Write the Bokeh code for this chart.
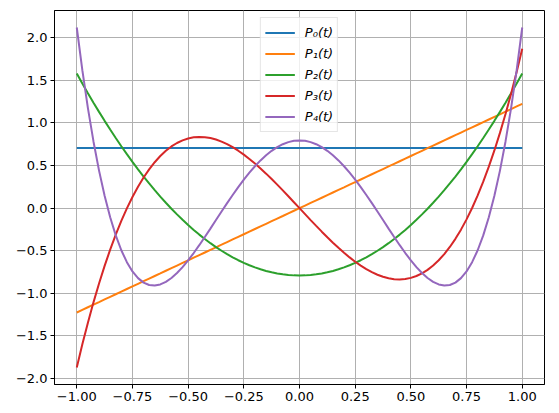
from bokeh.plotting import figure
from bokeh.models import FixedTicker, Range1d
from bokeh.embed import file_html
from bokeh.resources import INLINE

T = [-1.000, -0.975, -0.950, -0.925, -0.900, -0.875, -0.850, -0.825, -0.800, -0.775,
     -0.750, -0.725, -0.700, -0.675, -0.650, -0.625, -0.600, -0.575, -0.550, -0.525,
     -0.500, -0.475, -0.450, -0.425, -0.400, -0.375, -0.350, -0.325, -0.300, -0.275,
     -0.250, -0.225, -0.200, -0.175, -0.150, -0.125, -0.100, -0.075, -0.050, -0.025,
     0.000,
     0.025, 0.050, 0.075, 0.100, 0.125, 0.150, 0.175, 0.200, 0.225, 0.250,
     0.275, 0.300, 0.325, 0.350, 0.375, 0.400, 0.425, 0.450, 0.475, 0.500,
     0.525, 0.550, 0.575, 0.600, 0.625, 0.650, 0.675, 0.700, 0.725, 0.750,
     0.775, 0.800, 0.825, 0.850, 0.875, 0.900, 0.925, 0.950, 0.975, 1.000]

T0 = [-1.0, 1.0]
P0 = [0.7071, 0.7071]

P1 = [-1.2247, -1.1941, -1.1635, -1.1329, -1.1023, -1.0716, -1.0410, -1.0104, -0.9798, -0.9492,
      -0.9186, -0.8879, -0.8573, -0.8267, -0.7961, -0.7655, -0.7348, -0.7042, -0.6736, -0.6430,
      -0.6124, -0.5818, -0.5511, -0.5205, -0.4899, -0.4593, -0.4287, -0.3980, -0.3674, -0.3368,
      -0.3062, -0.2756, -0.2449, -0.2143, -0.1837, -0.1531, -0.1225, -0.0919, -0.0612, -0.0306,
      0.0,
      0.0306, 0.0612, 0.0919, 0.1225, 0.1531, 0.1837, 0.2143, 0.2449, 0.2756, 0.3062,
      0.3368, 0.3674, 0.3980, 0.4287, 0.4593, 0.4899, 0.5205, 0.5511, 0.5818, 0.6124,
      0.6430, 0.6736, 0.7042, 0.7348, 0.7655, 0.7961, 0.8267, 0.8573, 0.8879, 0.9186,
      0.9492, 0.9798, 1.0104, 1.0410, 1.0716, 1.1023, 1.1329, 1.1635, 1.1941, 1.2247]

P2 = [1.5811, 1.4640, 1.3499, 1.2387, 1.1305, 1.0253, 0.9230, 0.8237, 0.7273, 0.6339,
      0.5435, 0.4561, 0.3716, 0.2900, 0.2115, 0.1359, 0.0632, -0.0064, -0.0731, -0.1369,
      -0.1976, -0.2555, -0.3103, -0.3622, -0.4111, -0.4571, -0.5000, -0.5401, -0.5771, -0.6112,
      -0.6423, -0.6705, -0.6957, -0.7179, -0.7372, -0.7535, -0.7669, -0.7772, -0.7846, -0.7891,
      -0.7906,
      -0.7891, -0.7846, -0.7772, -0.7669, -0.7535, -0.7372, -0.7179, -0.6957, -0.6705, -0.6423,
      -0.6112, -0.5771, -0.5401, -0.5000, -0.4571, -0.4111, -0.3622, -0.3103, -0.2555, -0.1976,
      -0.1369, -0.0731, -0.0064, 0.0632, 0.1359, 0.2115, 0.2900, 0.3716, 0.4561, 0.5435,
      0.6339, 0.7273, 0.8237, 0.9230, 1.0253, 1.1305, 1.2387, 1.3499, 1.4640, 1.5811]

P3 = [-1.8708, -1.5989, -1.3441, -1.1059, -0.8840, -0.6778, -0.4870, -0.3111, -0.1497, -0.0023,
      0.1315, 0.2522, 0.3601, 0.4558, 0.5396, 0.6120, 0.6735, 0.7244, 0.7653, 0.7965,
      0.8185, 0.8317, 0.8366, 0.8336, 0.8232, 0.8057, 0.7817, 0.7515, 0.7156, 0.6745,
      0.6285, 0.5781, 0.5238, 0.4660, 0.4052, 0.3417, 0.2760, 0.2085, 0.1397, 0.0701,
      0.0,
      -0.0701, -0.1397, -0.2085, -0.2760, -0.3417, -0.4052, -0.4660, -0.5238, -0.5781, -0.6285,
      -0.6745, -0.7156, -0.7515, -0.7817, -0.8057, -0.8232, -0.8336, -0.8366, -0.8317, -0.8185,
      -0.7965, -0.7653, -0.7244, -0.6735, -0.6120, -0.5396, -0.4558, -0.3601, -0.2522, -0.1315,
      0.0023, 0.1497, 0.3111, 0.4870, 0.6778, 0.8840, 1.1059, 1.3441, 1.5989, 1.8708]

P4 = [2.1213, 1.6203, 1.1754, 0.7834, 0.4411, 0.1452, -0.1073, -0.3195, -0.4943, -0.6344,
      -0.7427, -0.8217, -0.8741, -0.9023, -0.9088, -0.8958, -0.8655, -0.8201, -0.7616, -0.6920,
      -0.6132, -0.5269, -0.4348, -0.3386, -0.2397, -0.1396, -0.0397, 0.0588, 0.1547, 0.2470,
      0.3346, 0.4166, 0.4922, 0.5606, 0.6212, 0.6735, 0.7169, 0.7510, 0.7757, 0.7905,
      0.7955,
      0.7905, 0.7757, 0.7510, 0.7169, 0.6735, 0.6212, 0.5606, 0.4922, 0.4166, 0.3346,
      0.2470, 0.1547, 0.0588, -0.0397, -0.1396, -0.2397, -0.3386, -0.4348, -0.5269, -0.6132,
      -0.6920, -0.7616, -0.8201, -0.8655, -0.8958, -0.9088, -0.9023, -0.8741, -0.8217, -0.7427,
      -0.6344, -0.4943, -0.3195, -0.1073, 0.1452, 0.4411, 0.7834, 1.1754, 1.6203, 2.1213]

XS = [T0, T, T, T, T]
SERIES = [P0, P1, P2, P3, P4]
LABELS = ["P₀(t)", "P₁(t)", "P₂(t)", "P₃(t)", "P₄(t)"]
COLORS = ["#1f77b4", "#ff7f0e", "#2ca02c", "#d62728", "#9467bd"]

X_TICKS = [-1.0, -0.75, -0.5, -0.25, 0.0, 0.25, 0.5, 0.75, 1.0]
X_TICK_LABELS = ["−1.00", "−0.75", "−0.50", "−0.25", "0.00", "0.25", "0.50", "0.75", "1.00"]
Y_TICKS = [-2.0, -1.5, -1.0, -0.5, 0.0, 0.5, 1.0, 1.5, 2.0]
Y_TICK_LABELS = ["−2.0", "−1.5", "−1.0", "−0.5", "0.0", "0.5", "1.0", "1.5", "2.0"]

FONT = "'DejaVu Sans'"

p = figure(width=559, height=413, output_backend="svg", toolbar_location=None,
           x_range=Range1d(-1.1, 1.1), y_range=Range1d(-2.0704, 2.3209),
           min_border_left=54, min_border_right=15, min_border_top=10, min_border_bottom=29)

for xs, ys, lab, col in zip(XS, SERIES, LABELS, COLORS):
    p.line(xs, ys, line_color=col, line_width=2, legend_label=lab)

p.background_fill_color = "white"
p.border_fill_color = "white"
p.outline_line_color = "black"
p.outline_line_width = 1
p.outline_line_alpha = 1

p.xaxis.ticker = FixedTicker(ticks=X_TICKS)
p.yaxis.ticker = FixedTicker(ticks=Y_TICKS)
p.xaxis.major_label_overrides = dict(zip(X_TICKS, X_TICK_LABELS))
p.yaxis.major_label_overrides = dict(zip(Y_TICKS, Y_TICK_LABELS))

for ax in (p.xaxis, p.yaxis):
    ax.axis_line_color = "black"
    ax.axis_line_width = 1
    ax.major_tick_line_color = "black"
    ax.major_tick_line_width = 1
    ax.major_tick_out = 4
    ax.major_tick_in = 0
    ax.minor_tick_line_color = None
    ax.major_label_text_font = FONT
    ax.major_label_text_font_size = "13px"
    ax.major_label_text_color = "black"
    ax.major_label_standoff = 3

for g in (p.xgrid, p.ygrid):
    g.grid_line_color = "#b0b0b0"
    g.grid_line_width = 1
    g.grid_line_alpha = 1

lg = p.legend[0]
lg.location = "top_center"
lg.margin = 7
lg.padding = 4
lg.spacing = 0
lg.glyph_width = 30
lg.glyph_height = 21
lg.label_height = 21
lg.label_standoff = 10
lg.label_text_font = FONT
lg.label_text_font_size = "13px"
lg.label_text_font_style = "italic"
lg.label_text_color = "black"
lg.border_line_color = "#cccccc"
lg.border_line_width = 1
lg.background_fill_alpha = 0.8

open("out.html", "w").write(file_html(p, INLINE))
